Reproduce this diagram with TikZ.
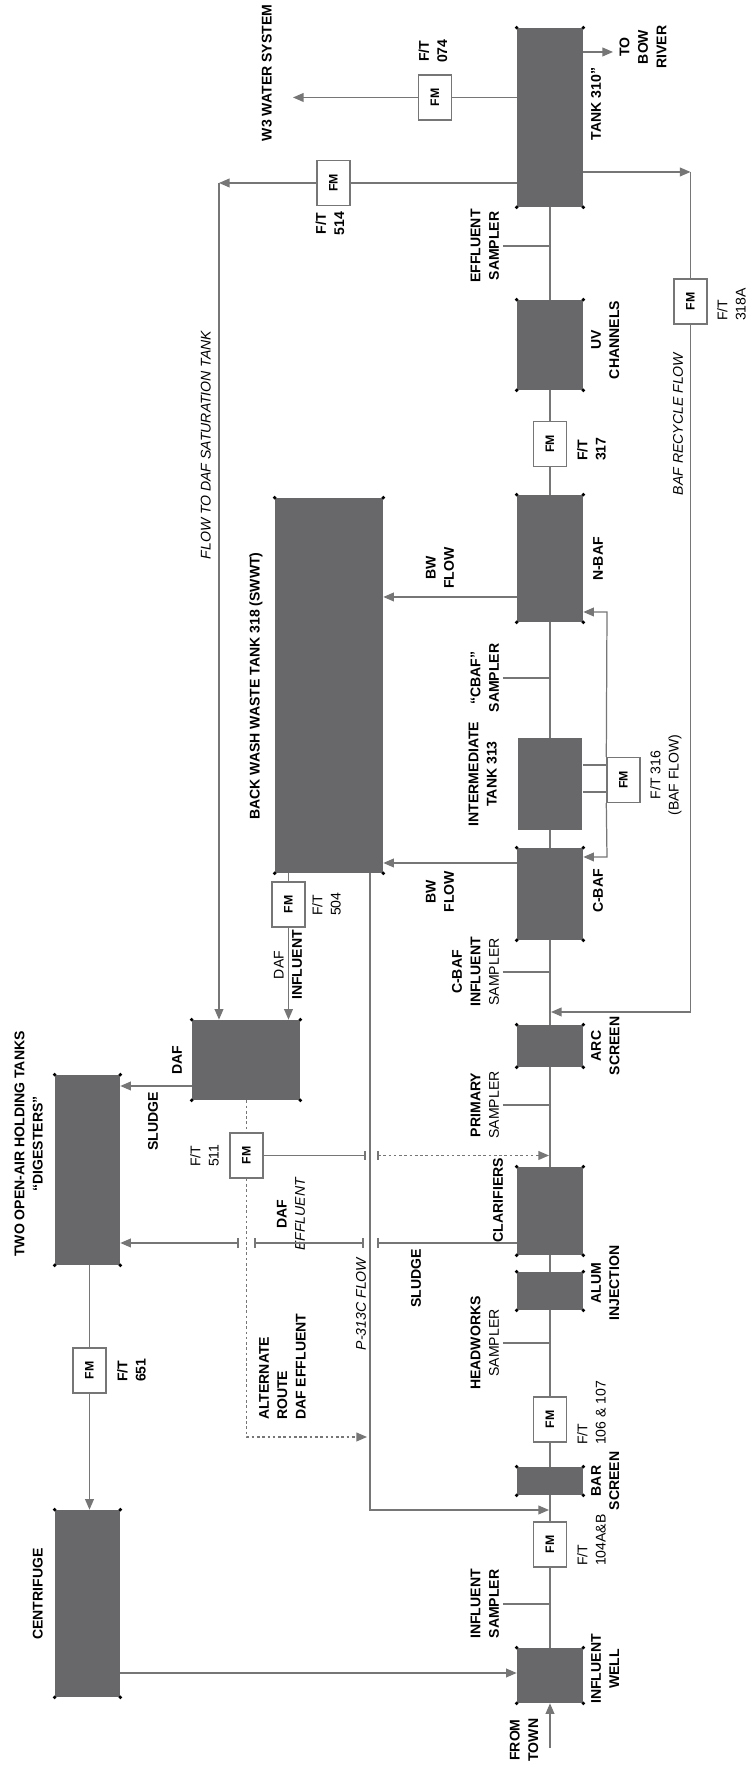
\documentclass[tikz,border=0pt]{standalone}
\usepackage{fontspec}
\setmainfont{Liberation Sans}
\usetikzlibrary{arrows.meta}

\definecolor{tankgray}{RGB}{104,103,105}
\definecolor{pipegray}{RGB}{118,118,118}

\tikzset{
  tank/.style={fill=tankgray, inner sep=0pt, minimum height=1.32cm},
  fm/.style={draw=pipegray, fill=white, line width=0.8pt, inner sep=0pt,
    minimum width=0.9cm, minimum height=0.66cm, font=\fontsize{7}{8}\selectfont\bfseries},
  lbl/.style={inner sep=1pt, align=center, font=\fontsize{8}{10.5}\selectfont\bfseries},
  lbll/.style={lbl, align=left},
  ftag/.style={inner sep=1pt, align=left, font=\fontsize{8}{10.5}\selectfont},
  note/.style={inner sep=1pt, align=center, font=\fontsize{8}{10.5}\selectfont\itshape},
  pipe/.style={draw=pipegray, line width=0.7pt},
  flow/.style={pipe, -{Triangle[length=6pt,width=5pt]}},
  alt/.style={dash pattern=on 1.5pt off 1.5pt},
}

% dots on the corners of a tank
\newcommand{\tankdots}[1]{%
  \foreach \c in {north west,north east,south west,south east}
    {\fill (#1.\c) circle (1.1pt);}}

\begin{document}
\begin{tikzpicture}[x=0.02cm,y=0.02cm]
\begin{scope}[rotate=90,transform shape]
  \fill[white] (0,0) rectangle (1770,746);

  % main process line
  \node[tank, minimum width=1.1cm] (well) at (94.5,196) {};
  \node[fm] (f104) at (225.5,196) {FM};
  \node[tank, minimum width=0.56cm] (bar) at (289,196) {};
  \node[fm] (f106) at (350.5,196) {FM};
  \node[tank, minimum width=0.76cm] (alum) at (479,196) {};
  \node[tank, minimum width=1.76cm] (clar) at (559,196) {};
  \node[tank, minimum width=0.84cm] (arc) at (724,196) {};
  \node[tank, minimum width=1.84cm] (cbaf) at (876,196) {};
  \node[tank, minimum width=1.84cm, minimum height=1.3cm] (inter) at (986,196) {};
  \node[tank, minimum width=2.54cm] (nbaf) at (1211.5,196) {};
  \node[fm] (f317) at (1326,196) {FM};
  \node[tank, minimum width=1.8cm] (uv) at (1425,196) {};
  \node[tank, minimum width=3.58cm] (t310) at (1652.5,196) {};

  \draw[pipe] (well) -- (f104) -- (bar) -- (f106) -- (alum) -- (clar) -- (arc)
    -- (cbaf) -- (inter) -- (nbaf) -- (f317) -- (uv) -- (t310);

  \coordinate (town) at (22,196);
  \draw[flow] (town) -- (well);
  \node[lbl] (townlbl) at (30,222) {FROM\\TOWN};

  % samplers
  \foreach \s/\x in {sinf/166, shw/427, spri/665, scbi/798, scbaf/1092, seff/1524} {
    \coordinate (\s) at (\x,243);
    \draw[pipe] (\s) -- (\x,196);
  }
  \node[lbl, anchor=south] (sinflbl) at (166,245) {INFLUENT\\SAMPLER};
  \node[lbl, anchor=south] (shwlbl) at (427,245) {HEADWORKS\\{\mdseries SAMPLER}};
  \node[lbl, anchor=south] (sprilbl) at (665,245) {PRIMARY\\{\mdseries SAMPLER}};
  \node[lbl, anchor=south] (scbilbl) at (798,245) {C-BAF\\INFLUENT\\{\mdseries SAMPLER}};
  \node[lbl, anchor=south] (scbaflbl) at (1092,245) {“CBAF”\\SAMPLER};
  \node[lbl, anchor=south] (sefflbl) at (1524,245) {EFFLUENT\\SAMPLER};

  % tank labels
  \node[lbl, anchor=north] (welllbl) at (101,157) {INFLUENT\\WELL};
  \node[lbl, anchor=north] (barlbl) at (289,157) {BAR\\SCREEN};
  \node[lbl, anchor=north] (alumlbl) at (487,157) {ALUM\\INJECTION};
  \node[lbl, anchor=south] (clarlbl) at (570,241) {CLARIFIERS};
  \node[lbl, anchor=north] (arclbl) at (724,157) {ARC\\SCREEN};
  \node[lbl, anchor=north] (cbaflbl) at (879,155) {C-BAF};
  \node[lbl, anchor=south] (interlbl) at (996,247) {INTERMEDIATE\\TANK 313};
  \node[lbl, anchor=north] (nbaflbl) at (1211,155) {N-BAF};
  \node[lbl, anchor=north] (uvlbl) at (1430,157) {UV\\CHANNELS};
  \node[lbl, anchor=north] (t310lbl) at (1666,157) {TANK 310”};

  \node[ftag, anchor=north west] (f104lbl) at (202,171) {F/T\\104A\&B};
  \node[ftag, anchor=north west] (f106lbl) at (323,171) {F/T\\106 \& 107};
  \node[ftag, anchor=north west, font=\fontsize{8}{10.5}\selectfont\bfseries] (f317lbl) at (1307,171) {F/T\\317};

  % back wash
  \node[tank, minimum width=7.5cm, minimum height=2.16cm] (bwwt) at (1084.5,417) {};
  \node[lbl, anchor=west] (bwwtlbl) at (948,490) {BACK WASH WASTE TANK 318 (SWWT)};
  \draw[flow] (907,0 |- cbaf.north) -- (907,0 |- bwwt.south);
  \draw[flow] (1173,0 |- nbaf.north) -- (1173,0 |- bwwt.south);
  \node[lbl, anchor=east] (bw1lbl) at (901,306) {BW\\FLOW};
  \node[lbl, anchor=west] (bw2lbl) at (1179,306) {BW\\FLOW};

  % BAF flow meter
  \node[fm] (f316) at (990,122.5) {FM};
  \draw[pipe] (1005,0 |- inter.south) -- (1005,0 |- f316.north);
  \draw[pipe] (978,0 |- inter.south) -- (978,0 |- f316.north);
  \draw[flow] (f316.north west) -- (913,139) -- (913,0 |- cbaf.south);
  \draw[flow] (f316.north east) -- (1158,139) -- (1158,0 |- nbaf.south);
  \node[ftag, anchor=north, align=center] (f316lbl) at (995,98) {F/T 316\\(BAF FLOW)};

  % DAF
  \node[tank, minimum width=1.6cm, minimum height=2.16cm] (daf) at (710,500) {};
  \node[lbl, anchor=south] (daflbl) at (710,562) {DAF};
  \node[fm] (f504) at (865.5,457.5) {FM};
  \draw[pipe] (f504.east) -- (bwwt.west |- f504.east);
  \draw[flow] (f504) -- (daf.east |- f504);
  \node[lbl] (dafinlbl) at (805,458) {{\mdseries DAF}\\INFLUENT};
  \node[ftag, anchor=north west] (f504lbl) at (852,436) {F/T\\504};

  % P-313C flow back to the head
  \coordinate (p313) at (260,376);
  \coordinate (p313in) at (260,197);
  \draw[flow] (bwwt.west |- p313) -- (p313) -- (p313in);
  \node[note, anchor=south] (p313lbl) at (466,378) {P-313C FLOW};

  % DAF effluent
  \node[fm] (f511) at (614.5,499.5) {FM};
  \node[ftag, anchor=south west] (f511lbl) at (601,525) {F/T\\511};
  \draw[pipe] (f511.south) -- (614.5,381);
  \draw[pipe] (610,381) -- (619,381);
  \draw[pipe] (610,368) -- (619,368);
  \draw[flow, alt] (614.5,368) -- (614.5,197);
  \node[lbl, anchor=east] (dafefflbl) at (594,455) {DAF\\{\mdseries\itshape EFFLUENT}};

  % alternate route
  \coordinate (altbend) at (333,499.5);
  \draw[pipe, alt] (daf.west |- f511) -- (f511.east);
  \draw[flow, alt] (f511.west) -- (altbend) -- (333,379);
  \node[lbll, anchor=north west] (altlbl) at (348,489) {ALTERNATE\\ROUTE\\DAF EFFLUENT};

  % digesters and centrifuge
  \node[tank, minimum width=3.8cm, minimum height=1.3cm] (dig) at (600,658.5) {};
  \node[lbl, anchor=south] (diglbl) at (626,701) {TWO OPEN-AIR HOLDING TANKS\\“DIGESTERS”};
  \node[tank, minimum width=3.74cm, minimum height=1.3cm] (cent) at (166.5,658.5) {};
  \node[lbl, anchor=south] (centlbl) at (176,701) {CENTRIFUGE};
  \node[fm] (f651) at (399.5,656.5) {FM};
  \node[ftag, anchor=north west, font=\fontsize{8}{10.5}\selectfont\bfseries] (f651lbl) at (386,631) {F/T\\651};
  \draw[pipe] (dig.west |- f651) -- (f651);
  \draw[flow] (f651) -- (cent.east |- f651);
  \draw[flow] (97,0 |- cent.south) -- (97,0 |- well.north);

  % clarifier sludge, broken where it crosses
  \draw[pipe] (527,0 |- clar.north) -- (527,368);
  \draw[pipe] (527,383) -- (527,491);
  \draw[flow] (527,508) -- (527,0 |- dig.south);
  \foreach \y in {368,383,491,508}
    {\draw[pipe] (522,\y) -- (532,\y);}
  \node[lbl, anchor=east] (sludge1lbl) at (523,330) {SLUDGE};

  % DAF sludge
  \draw[flow] (684,0 |- daf.north) -- (684,0 |- dig.south);
  \node[lbl, anchor=east] (sludge2lbl) at (680,593) {SLUDGE};

  % flow to DAF saturation tank
  \node[fm] (f514) at (1587,412.5) {FM};
  \node[lbl, anchor=east] (f514lbl) at (1560,416) {F/T\\514};
  \coordinate (satbend) at (1587,527);
  \draw[pipe] (t310.north -| f514) -- (f514);
  \draw[flow] (f514) -- (satbend);
  \draw[flow] (satbend) -- (daf.east |- satbend);
  \node[note, anchor=south] (satlbl) at (1325,533) {FLOW TO DAF SATURATION TANK};

  % W3 water system
  \node[fm] (f074) at (1672.5,311) {FM};
  \node[lbl, anchor=west] (f074lbl) at (1705,313) {F/T\\074};
  \coordinate (w3) at (1672.5,453);
  \draw[pipe] (t310.north -| f074) -- (f074);
  \draw[flow] (f074) -- (w3);
  \node[lbl, anchor=south] (w3lbl) at (1697,472) {W3 WATER SYSTEM};

  % to Bow River
  \coordinate (river) at (1718,133);
  \draw[flow] (river |- t310.south) -- (river);
  \node[lbl] (riverlbl) at (1723,103) {TO\\BOW\\RIVER};

  % BAF recycle
  \node[fm] (f318) at (1468.5,55.5) {FM};
  \node[ftag, anchor=north west] (f318lbl) at (1447,31) {F/T\\318A};
  \coordinate (recbend) at (1598,55.5);
  \coordinate (recturn) at (758,55.5);
  \coordinate (recin) at (758,195);
  \draw[flow] (recbend |- t310.south) -- (recbend);
  \draw[pipe] (recbend) -- (f318);
  \draw[flow] (f318) -- (recturn) -- (recin);
  \node[note, anchor=south] (reclbl) at (1346,61) {BAF RECYCLE FLOW};

  % corner dots
  \foreach \t in {well,bar,alum,clar,arc,cbaf,nbaf,uv,t310,bwwt,daf,dig,cent}
    {\tankdots{\t}}
\end{scope}
\end{tikzpicture}
\end{document}
